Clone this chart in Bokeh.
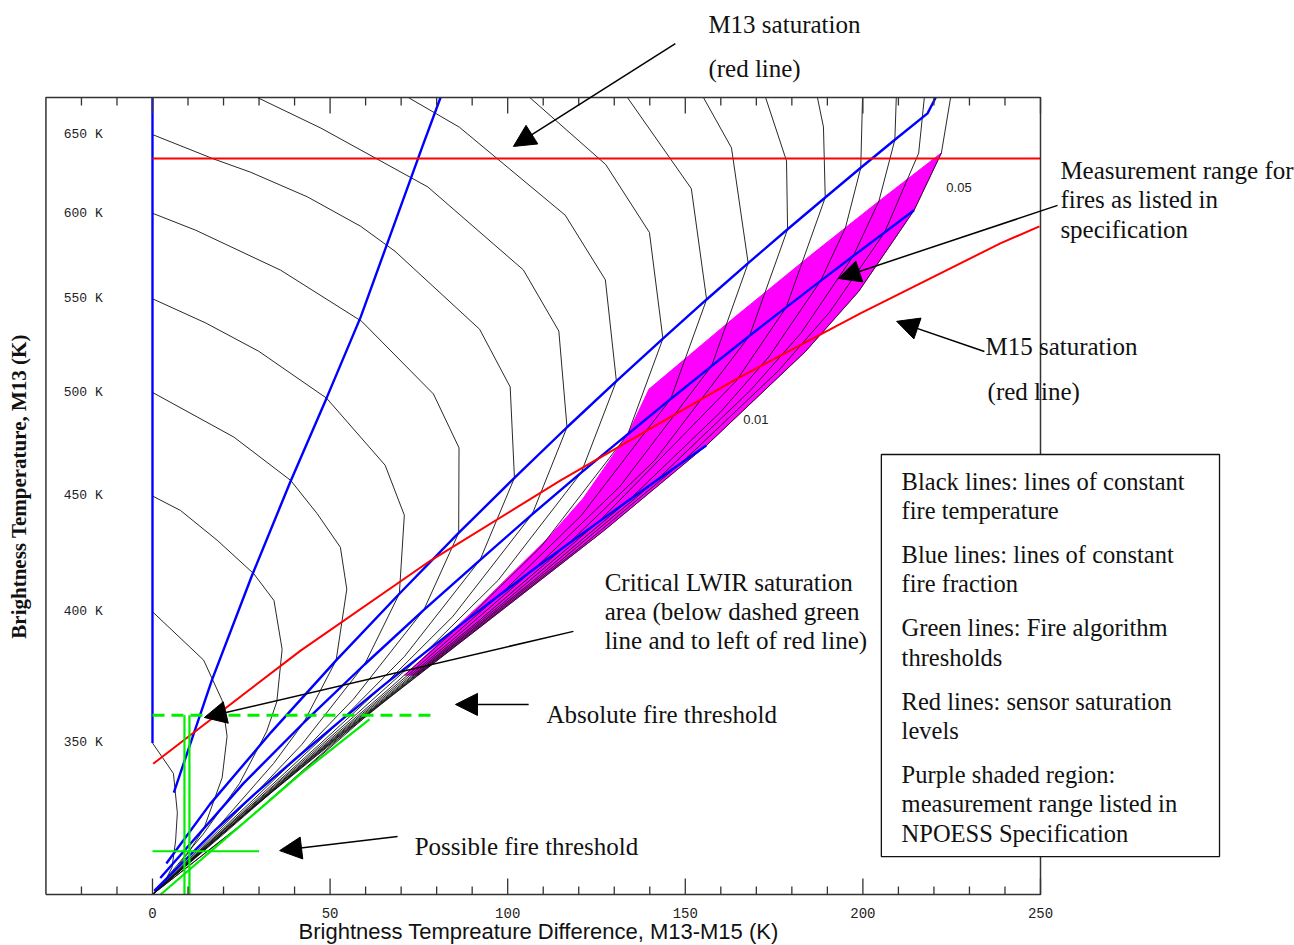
import math
from bokeh.plotting import figure
from bokeh.models import Range1d, Label, Arrow, NormalHead
from bokeh.core.properties import value
from bokeh.embed import file_html
from bokeh.resources import INLINE

# ---------------- axes ----------------
X_MIN, X_MAX = -30, 250          # brightness temperature difference (K)
Y_MIN, Y_MAX = 300, 675          # M13 brightness temperature (K), log scaled
X_TICKS = [0, 50, 100, 150, 200, 250]
X_TICK_TEXT = ["0", "50", "100", "150", "200", "250"]
X_MINOR = [-20, -10, 10, 20, 30, 40, 60, 70, 80, 90, 110, 120, 130, 140,
           160, 170, 180, 190, 210, 220, 230, 240]
Y_LABEL_VALUES = [350, 400, 450, 500, 550, 600, 650]
Y_LABEL_TEXT = ["350 K", "400 K", "450 K", "500 K", "550 K", "600 K", "650 K"]

# ---------------- lines of constant fire temperature (dT, T13) ----------------
TF350_DT = [0, 5.9, 7.0, 6.5, 5.5, 3.0, 0]
TF350_T = [350, 339.3, 326.0, 316.8, 308.4, 303.0, 300]
TF400_DT = [0, 14.4, 19.6, 21.0, 19.6, 14.4, 9.8, 5.0, 0]
TF400_T = [400, 380.8, 365.5, 352.4, 337.8, 320.6, 312.6, 305.9, 300]
TF450_DT = [0, 7.9, 18.2, 28.5, 34.2, 36.5, 35.0, 32.1, 24.5, 14.2, 0]
TF450_T = [450, 443.4, 430.2, 415.8, 404.6, 385.0, 365.0, 354.0, 335.9, 318.9, 300]
TF500_DT = [0, 22.9, 38.9, 46.4, 52.9, 54.7, 51.7, 42.5, 34.1, 17.8, 0]
TF500_T = [500, 477.8, 457.2, 441.9, 427.1, 409.3, 380.7, 357.2, 342.8, 320.5, 300]
TF550_DT = [0, 15.0, 29.9, 49.0, 65.5, 70.9, 69.5, 59.7, 42.0, 28.9, 18.2, 0]
TF550_T = [550, 536.6, 521.4, 497.1, 464.3, 441.3, 407.4, 379.1, 349.4, 332.4, 319.8, 300]
TF600_DT = [0, 12.2, 36.1, 58.9, 79.1, 86.3, 86.2, 76.4, 56.6, 41.1, 27.4, 14.2, 0]
TF600_T = [600, 589.7, 566.2, 537.5, 499.2, 472.6, 433.4, 400.8, 366.0, 345.3, 329.3, 314.8, 300]
TF650_DT = [0, 17.3, 27.6, 43.6, 58.6, 68.3, 92.1, 100.7, 101.9, 92.2, 71.0, 53.3, 37.1, 20.5, 0]
TF650_T = [650, 634.0, 625.6, 610.1, 592.1, 577.2, 533.2, 502.8, 458.4, 421.6, 382.3, 358.4, 339.3, 321.1, 300]
TF700_DT = [29.5, 47.4, 77.5, 104.4, 114.4, 116.7, 106.9, 84.5, 65.2, 47.1, 27.4, 16.6, 0]
TF700_T = [675, 654.3, 616.3, 566.4, 532.2, 482.6, 441.7, 398.0, 371.3, 349.6, 328.0, 316.8, 300]
TF750_DT = [72.0, 86.4, 116.2, 127.5, 130.6, 120.7, 97.3, 76.8, 56.8, 34.4, 21.6, 0]
TF750_T = [675, 654.9, 598.8, 560.7, 505.8, 460.8, 413.0, 383.8, 359.7, 335.1, 321.8, 300]
TF800_DT = [106.2, 127.6, 139.9, 143.7, 133.8, 109.4, 87.7, 66.3, 41.6, 27.0, 0]
TF800_T = [675, 630.5, 588.4, 528.1, 479.2, 427.4, 395.8, 369.5, 342.3, 327.0, 300]
TF850_DT = [133.7, 151.7, 156.0, 145.9, 120.7, 98.0, 75.3, 48.6, 32.3, 16.0, 0]
TF850_T = [675, 615.2, 549.6, 496.7, 441.1, 407.2, 379.0, 349.3, 332.3, 315.5, 300]
TF900_DT = [155.1, 163.0, 167.7, 157.4, 131.5, 107.7, 83.9, 55.4, 37.6, 16.6, 0]
TF900_T = [675, 641.3, 570.3, 513.6, 454.2, 418.1, 388.0, 356.2, 337.6, 316.0, 300]
TF950_DT = [172.6, 178.5, 178.8, 168.1, 141.4, 116.9, 92.1, 62.0, 42.8, 20.0, 0]
TF950_T = [675, 632.8, 590.3, 529.7, 466.6, 428.4, 396.6, 362.8, 342.8, 319.0, 300]
TF1000_DT = [187.2, 188.9, 189.4, 178.4, 164.3, 125.6, 99.8, 68.3, 48.0, 22.2, 0]
TF1000_T = [675, 655.0, 609.7, 545.2, 505.8, 438.3, 404.9, 369.2, 347.8, 321.8, 300]
TF1050_DT = [199.9, 199.4, 195.1, 188.1, 173.6, 159.8, 133.9, 107.1, 74.3, 53.0, 30.6, 0]
TF1050_T = [675, 628.4, 591.3, 560.1, 518.6, 489.9, 447.8, 412.7, 375.3, 352.8, 330.2, 300]
TF1100_DT = [209.4, 209.0, 204.5, 197.3, 182.5, 168.2, 141.6, 114.1, 80.0, 57.7, 25.0, 0]
TF1100_T = [675, 646.6, 607.4, 574.5, 530.9, 500.8, 456.8, 420.3, 381.2, 357.5, 322.0, 300]
TF1150_DT = [217.3, 215.7, 206.1, 190.7, 176.3, 148.9, 120.7, 85.6, 62.3, 27.0, 0]
TF1150_T = [675, 637.8, 588.4, 542.7, 511.3, 465.4, 427.4, 386.8, 362.1, 324.0, 300]
TF1200_DT = [224.7, 222.1, 214.4, 198.8, 183.9, 155.9, 127.0, 90.8, 66.8, 46.5, 25.9, 0]
TF1200_T = [675, 638.0, 601.8, 554.1, 521.4, 473.7, 434.3, 392.2, 366.6, 345.8, 325.4, 300]

# ---------------- lines of constant fire fraction ----------------
FF100_DT = [0, 0]
FF100_T = [350, 675]
FF050_DT = [6.0, 16.7, 27.9, 38.7, 49.0, 58.6, 65.3, 70.8, 76.0, 81.1]
FF050_T = [332.8, 373.0, 414.6, 456.1, 497.1, 539.8, 577.2, 609.8, 642.2, 675]
FF010_DT = [3.9, 16.2, 33.5, 51.7, 69.5, 86.2, 101.9, 116.7, 130.6, 143.7, 156.0,
            167.7, 178.8, 189.4, 199.4, 209.0, 218.2, 220.5]
FF010_T = [309.6, 328.9, 354.0, 380.7, 407.4, 433.4, 458.4, 482.6, 505.8, 528.1, 549.6,
           570.3, 590.3, 609.7, 628.4, 646.6, 664.2, 675]
FF005_DT = [2.2, 25.6, 42.5, 59.7, 76.4, 92.2, 106.9, 120.7, 133.8, 145.9, 157.4,
            168.1, 178.4, 188.1, 197.3, 206.1, 214.4]
FF005_T = [305.1, 335.9, 357.2, 379.1, 400.8, 421.6, 441.7, 460.8, 479.2, 496.7, 513.6,
           529.7, 545.2, 560.1, 574.5, 588.4, 601.8]
FF001_DT = [0.5, 17.8, 28.9, 41.1, 53.3, 65.2, 76.8, 87.7, 98.0, 107.7, 116.9, 125.6,
            133.9, 141.6, 148.9, 155.9]
FF001_T = [301.1, 320.5, 332.4, 345.3, 358.4, 371.3, 383.8, 395.8, 407.2, 418.1, 428.4,
           438.3, 447.8, 456.8, 465.4, 473.7]

# ---------------- sensor saturation ----------------
M13_SAT_DT = [0, 250]
M13_SAT_T = [634.4, 634.4]
M15_SAT_DT = [0.2, 41.7, 78.3, 114.9, 163.6, 199.3, 238.7, 249.7]
M15_SAT_T = [342.7, 384.5, 421.4, 457.2, 506.1, 541.9, 581.9, 592.0]

# ---------------- fire algorithm thresholds ----------------
ABS_THRESH_DT = [0, 80]
ABS_THRESH_T = [360, 360]
POSS_THRESH_DT = [0, 30]
POSS_THRESH_T = [313.5, 313.5]
DT_THRESH_A = [9.0, 9.0]
DT_THRESH_B = [10.4, 10.4]
DT_THRESH_T = [300, 360]
DIAG_THRESH_DT = [2.3, 41.7, 61.1]
DIAG_THRESH_T = [300, 339.2, 358.5]

# ---------------- specification measurement range ----------------
SPEC_DT = [222.1, 204.5, 185.2, 163.8, 139.8, 133.8, 121.2, 111.5, 92.3, 71.0,
           74.7, 90.8, 127.0, 155.9, 183.9, 198.8, 214.4]
SPEC_T = [638.0, 607.4, 574.7, 539.6, 501.7, 479.2, 448.8, 431.4, 403.0, 375.0,
          375.0, 392.2, 434.3, 473.7, 521.4, 554.1, 601.8]

SERIF = "Liberation Serif"
INK = "#111111"

# The plotting frame fills the whole canvas so that the notes around the
# axes box are not clipped; the axes box itself is drawn below.
p = figure(width=1294, height=945, x_range=Range1d(-42.79, 321.51),
           y_range=Range1d(284.83, 745.0), y_axis_type="log",
           x_axis_location=None, y_axis_location=None,
           output_backend="svg", toolbar_location=None,
           min_border=0, min_border_left=0, min_border_right=0,
           min_border_top=0, min_border_bottom=0)
p.outline_line_color = None
p.xgrid.visible = False
p.ygrid.visible = False
p.background_fill_color = "white"
p.border_fill_color = "white"

# vertical tick lengths expressed on the log scale (16 px major, 8 px minor)
px_per_ln = 797.0 / math.log(Y_MAX / Y_MIN)
up_major = math.exp(16 / px_per_ln)
up_minor = math.exp(8 / px_per_ln)

# spec range shading
p.patch(SPEC_DT, SPEC_T, fill_color="#ff00ff", line_color="#ff00ff", line_width=1)

# constant fire temperature lines
for dts, ts in [(TF350_DT, TF350_T), (TF400_DT, TF400_T), (TF450_DT, TF450_T),
                (TF500_DT, TF500_T), (TF550_DT, TF550_T), (TF600_DT, TF600_T),
                (TF650_DT, TF650_T), (TF700_DT, TF700_T), (TF750_DT, TF750_T),
                (TF800_DT, TF800_T), (TF850_DT, TF850_T), (TF900_DT, TF900_T),
                (TF950_DT, TF950_T), (TF1000_DT, TF1000_T), (TF1050_DT, TF1050_T),
                (TF1100_DT, TF1100_T), (TF1150_DT, TF1150_T), (TF1200_DT, TF1200_T)]:
    p.line(dts, ts, line_color=INK, line_width=0.9)

# constant fire fraction lines
for dts, ts in [(FF100_DT, FF100_T), (FF050_DT, FF050_T), (FF010_DT, FF010_T),
                (FF005_DT, FF005_T), (FF001_DT, FF001_T)]:
    p.line(dts, ts, line_color="#0000ff", line_width=2.4)

# saturation
p.line(M13_SAT_DT, M13_SAT_T, line_color="#ff0000", line_width=2)
p.line(M15_SAT_DT, M15_SAT_T, line_color="#ff0000", line_width=2)

# thresholds
GREEN = "#00ee00"
p.line(ABS_THRESH_DT, ABS_THRESH_T, line_color=GREEN, line_width=3, line_dash="12 7")
p.line(POSS_THRESH_DT, POSS_THRESH_T, line_color=GREEN, line_width=2.2)
p.line(DT_THRESH_A, DT_THRESH_T, line_color=GREEN, line_width=2.2)
p.line(DT_THRESH_B, DT_THRESH_T, line_color=GREEN, line_width=2.2)
p.line(DIAG_THRESH_DT, DIAG_THRESH_T, line_color=GREEN, line_width=2.2)

# axes box with inward ticks
BOX = "#333333"
p.line([X_MIN, X_MAX, X_MAX, X_MIN, X_MIN], [Y_MIN, Y_MIN, Y_MAX, Y_MAX, Y_MIN],
       line_color=BOX, line_width=1.5)
p.segment(x0=X_TICKS, y0=[Y_MIN] * len(X_TICKS), x1=X_TICKS,
          y1=[Y_MIN * up_major] * len(X_TICKS), line_color=BOX, line_width=1.3)
p.segment(x0=X_MINOR, y0=[Y_MIN] * len(X_MINOR), x1=X_MINOR,
          y1=[Y_MIN * up_minor] * len(X_MINOR), line_color=BOX, line_width=1.3)
p.segment(x0=X_TICKS, y0=[Y_MAX] * len(X_TICKS), x1=X_TICKS,
          y1=[Y_MAX / up_major] * len(X_TICKS), line_color=BOX, line_width=1.3)
p.segment(x0=X_MINOR, y0=[Y_MAX] * len(X_MINOR), x1=X_MINOR,
          y1=[Y_MAX / up_minor] * len(X_MINOR), line_color=BOX, line_width=1.3)
p.text(x=X_TICKS, y=[294.4] * len(X_TICKS), text=X_TICK_TEXT,
       text_font=value("Liberation Mono"), text_font_size=value("14px"),
       text_baseline="middle", text_align="center", text_color="#222222")

# in-plot temperature labels
p.text(x=[-25] * len(Y_LABEL_VALUES), y=Y_LABEL_VALUES, text=Y_LABEL_TEXT,
       text_font=value("Liberation Mono"), text_font_size=value("13px"),
       text_baseline="middle", text_align="left", text_color="#222222")
p.text(x=[223.5, 166.3], y=[616.0, 486.4], text=["0.05", "0.01"],
       text_font=value("Liberation Sans"), text_font_size=value("13px"),
       text_baseline="middle", text_align="left", text_color="#222222")

# explanation box
p.quad(left=[205.2], right=[300.4], bottom=[311.8], top=[469.4],
       fill_color="white", line_color=INK, line_width=1.3)


def note(x, y, text, size="25px", font=SERIF, align="left", style="normal", angle=0):
    p.add_layout(Label(x=x, y=y, text=text, text_font=font, text_font_size=size,
                       text_align=align, text_baseline="middle", text_font_style=style,
                       text_color=INK, angle=angle))


def pointer(x0, y0, x1, y1):
    p.add_layout(Arrow(end=NormalHead(size=22, fill_color="black", line_color="black"),
                       x_start=x0, y_start=y0, x_end=x1, y_end=y1,
                       line_color="black", line_width=1.5))


note(156.5, 727.0, "M13 saturation")
note(156.5, 695.2, "(red line)")
pointer(147.2, 713.1, 101.6, 642.2)

note(255.6, 626.7, "Measurement range for")
note(255.6, 608.5, "fires as listed in")
note(255.6, 590.2, "specification")
pointer(254.8, 604.8, 193.1, 561.5)

note(234.5, 523.9, "M15 saturation")
note(235.1, 500.5, "(red line)")
pointer(234.2, 521.3, 209.5, 537.5)

note(127.3, 412.1, "Critical LWIR saturation")
note(127.3, 400.1, "area (below dashed green")
note(127.3, 388.5, "line and to left of red line)")
pointer(118.5, 392.1, 14.6, 359.2)

note(110.9, 360.3, "Absolute fire threshold")
pointer(105.9, 364.0, 85.3, 364.0)

note(73.8, 315.0, "Possible fire threshold")
pointer(69.0, 318.2, 35.8, 313.7)

legend_lines = [(456.8, "Black lines: lines of constant"), (443.4, "fire temperature"),
                (424.0, "Blue lines: lines of constant"), (411.7, "fire fraction"),
                (393.7, "Green lines: Fire algorithm"), (381.8, "thresholds"),
                (365.1, "Red lines: sensor saturation"), (354.5, "levels"),
                (339.0, "Purple shaded region:"), (329.1, "measurement range listed in"),
                (319.2, "NPOESS Specification")]
for yy, tt in legend_lines:
    note(210.9, yy, tt, size="24.5px")

# axis titles
note(108.7, 288.9, "Brightness Tempreature Difference, M13-M15 (K)", size="22px",
     font="Liberation Sans", align="center")
note(-37.7, 454.4, "Brightness Temperature, M13 (K)", size="21px", align="center",
     style="bold", angle=math.pi / 2)

open("out.html", "w").write(file_html(p, INLINE))
